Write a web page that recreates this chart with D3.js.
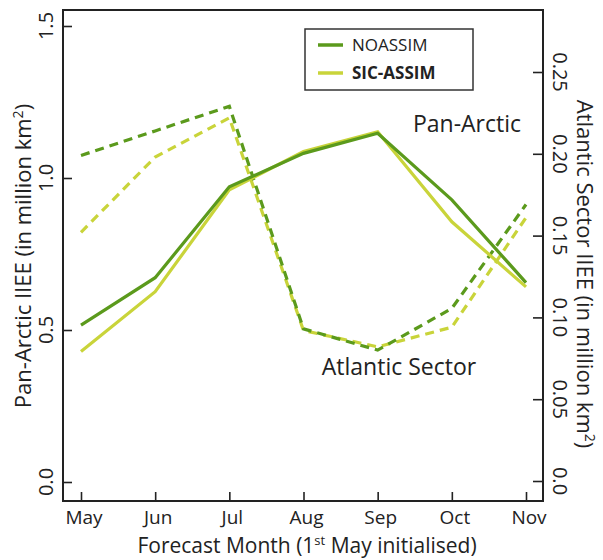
<!DOCTYPE html>
<html>
<head>
<meta charset="utf-8">
<script src="https://cdn.jsdelivr.net/npm/d3@7"></script>
<style>
  html, body { margin: 0; padding: 0; background: #fff; }
  svg { display: block; }
  text { font-family: "Open Sans", Lato, sans-serif; fill: #222; }
</style>
</head>
<body>
<svg id="chart" width="603" height="560"></svg>
<script>
// ---- data ----
const months = ["May", "Jun", "Jul", "Aug", "Sep", "Oct", "Nov"];
const panNoassim = [0.516, 0.672, 0.971, 1.081, 1.147, 0.928, 0.656];
const panSicAssim = [0.429, 0.626, 0.961, 1.087, 1.152, 0.856, 0.642];
const atlNoassim = [0.199, 0.214, 0.229, 0.093, 0.080, 0.1055, 0.169];
const atlSicAssim = [0.152, 0.198, 0.222, 0.092, 0.082, 0.094, 0.161];
const leftTicks = [0.0, 0.5, 1.0, 1.5];
const leftTickLabels = ["0.0", "0.5", "1.0", "1.5"];
const rightTicks = [0.0, 0.05, 0.10, 0.15, 0.20, 0.25];
const rightTickLabels = ["0.0", "0.05", "0.10", "0.15", "0.20", "0.25"];
const seriesNames = ["NOASSIM", "SIC-ASSIM"];

const darkGreen = "#5b9a1c";
const lightGreen = "#c9d43a";

const svg = d3.select("#chart");
const box = { left: 63, right: 543, top: 10, bottom: 501 };

const x = d3.scalePoint().domain(months).range([81, 526]);
const yL = d3.scaleLinear().domain([0, 1.5]).range([482, 26]);
const yR = d3.scaleLinear().domain([0, 0.25]).range([481, 72]);

// ---- axes (ticks inward) ----
const axisColor = "#222";
const gL = svg.append("g").attr("transform", `translate(${box.left},0)`)
  .call(d3.axisRight(yL).tickValues(leftTicks).tickSize(9).tickFormat(""));
const gR = svg.append("g").attr("transform", `translate(${box.right},0)`)
  .call(d3.axisLeft(yR).tickValues(rightTicks).tickSize(10).tickFormat(""));
const gB = svg.append("g").attr("transform", `translate(0,${box.bottom})`)
  .call(d3.axisTop(x).tickSize(9).tickFormat(""));
[gL, gR, gB].forEach(g => {
  g.select(".domain").remove();
  g.selectAll(".tick line").attr("stroke", axisColor).attr("stroke-width", 1.6);
});

// box frame
svg.append("rect")
  .attr("x", box.left).attr("y", box.top)
  .attr("width", box.right - box.left).attr("height", box.bottom - box.top)
  .attr("fill", "none").attr("stroke", axisColor).attr("stroke-width", 2);

// left tick labels (rotated)
svg.append("g").selectAll("text").data(leftTicks).join("text")
  .attr("transform", (d) => `translate(53,${yL(d)}) rotate(-90)`)
  .attr("text-anchor", "middle")
  .attr("font-size", 20)
  .text((d, i) => leftTickLabels[i]);

// right tick labels (rotated)
svg.append("g").selectAll("text").data(rightTicks).join("text")
  .attr("transform", (d) => `translate(553,${yR(d)}) rotate(90)`)
  .attr("text-anchor", "middle")
  .attr("font-size", 20)
  .text((d, i) => rightTickLabels[i]);

// bottom tick labels
svg.append("g").selectAll("text").data(months).join("text")
  .attr("x", d => x(d) + 3).attr("y", 524)
  .attr("text-anchor", "middle")
  .attr("font-size", 19)
  .text(d => d);

// axis titles
const tL = svg.append("text")
  .attr("transform", "translate(31,256) rotate(-90)")
  .attr("text-anchor", "middle").attr("font-size", 22);
tL.append("tspan").text("Pan-Arctic IIEE (in million km");
tL.append("tspan").attr("font-size", 14).attr("dy", -8).text("2");
tL.append("tspan").attr("dy", 8).text(")");

const tR = svg.append("text")
  .attr("transform", "translate(577,274) rotate(90)")
  .attr("text-anchor", "middle").attr("font-size", 22);
tR.append("tspan").text("Atlantic Sector IIEE (in million km");
tR.append("tspan").attr("font-size", 14).attr("dy", -8).text("2");
tR.append("tspan").attr("dy", 8).text(")");

const tB = svg.append("text")
  .attr("x", 307).attr("y", 553)
  .attr("text-anchor", "middle").attr("font-size", 21);
tB.append("tspan").text("Forecast Month (1");
tB.append("tspan").attr("font-size", 13).attr("dy", -8).text("st");
tB.append("tspan").attr("dy", 8).text(" May initialised)");

// ---- lines ----
const lineL = d3.line().x((d, i) => x(months[i])).y(d => yL(d));
const lineR = d3.line().x((d, i) => x(months[i])).y(d => yR(d));

const plot = svg.append("g");
plot.append("path").datum(atlSicAssim).attr("d", lineR)
  .attr("fill", "none").attr("stroke", lightGreen).attr("stroke-width", 3.2)
  .attr("stroke-dasharray", "9,6");
plot.append("path").datum(atlNoassim).attr("d", lineR)
  .attr("fill", "none").attr("stroke", darkGreen).attr("stroke-width", 3.2)
  .attr("stroke-dasharray", "9,6");
plot.append("path").datum(panSicAssim).attr("d", lineL)
  .attr("fill", "none").attr("stroke", lightGreen).attr("stroke-width", 3.2);
plot.append("path").datum(panNoassim).attr("d", lineL)
  .attr("fill", "none").attr("stroke", darkGreen).attr("stroke-width", 3.2);

// annotations
svg.append("text").attr("x", 467).attr("y", 132)
  .attr("text-anchor", "middle").attr("font-size", 23).text("Pan-Arctic");
svg.append("text").attr("x", 399).attr("y", 375)
  .attr("text-anchor", "middle").attr("font-size", 23).text("Atlantic Sector");

// legend
const lg = svg.append("g");
lg.append("rect").attr("x", 305).attr("y", 29).attr("width", 168).attr("height", 61)
  .attr("fill", "#fff").attr("stroke", "#333").attr("stroke-width", 1.5);
const legColors = [darkGreen, lightGreen];
seriesNames.forEach((name, i) => {
  const yy = 45 + i * 28;
  lg.append("line").attr("x1", 318).attr("x2", 343).attr("y1", yy).attr("y2", yy)
    .attr("stroke", legColors[i]).attr("stroke-width", 3.5);
  lg.append("text").attr("x", 352).attr("y", yy + 6)
    .attr("font-size", 17).attr("font-weight", i === 1 ? 700 : 400).text(name);
});
</script>
</body>
</html>
